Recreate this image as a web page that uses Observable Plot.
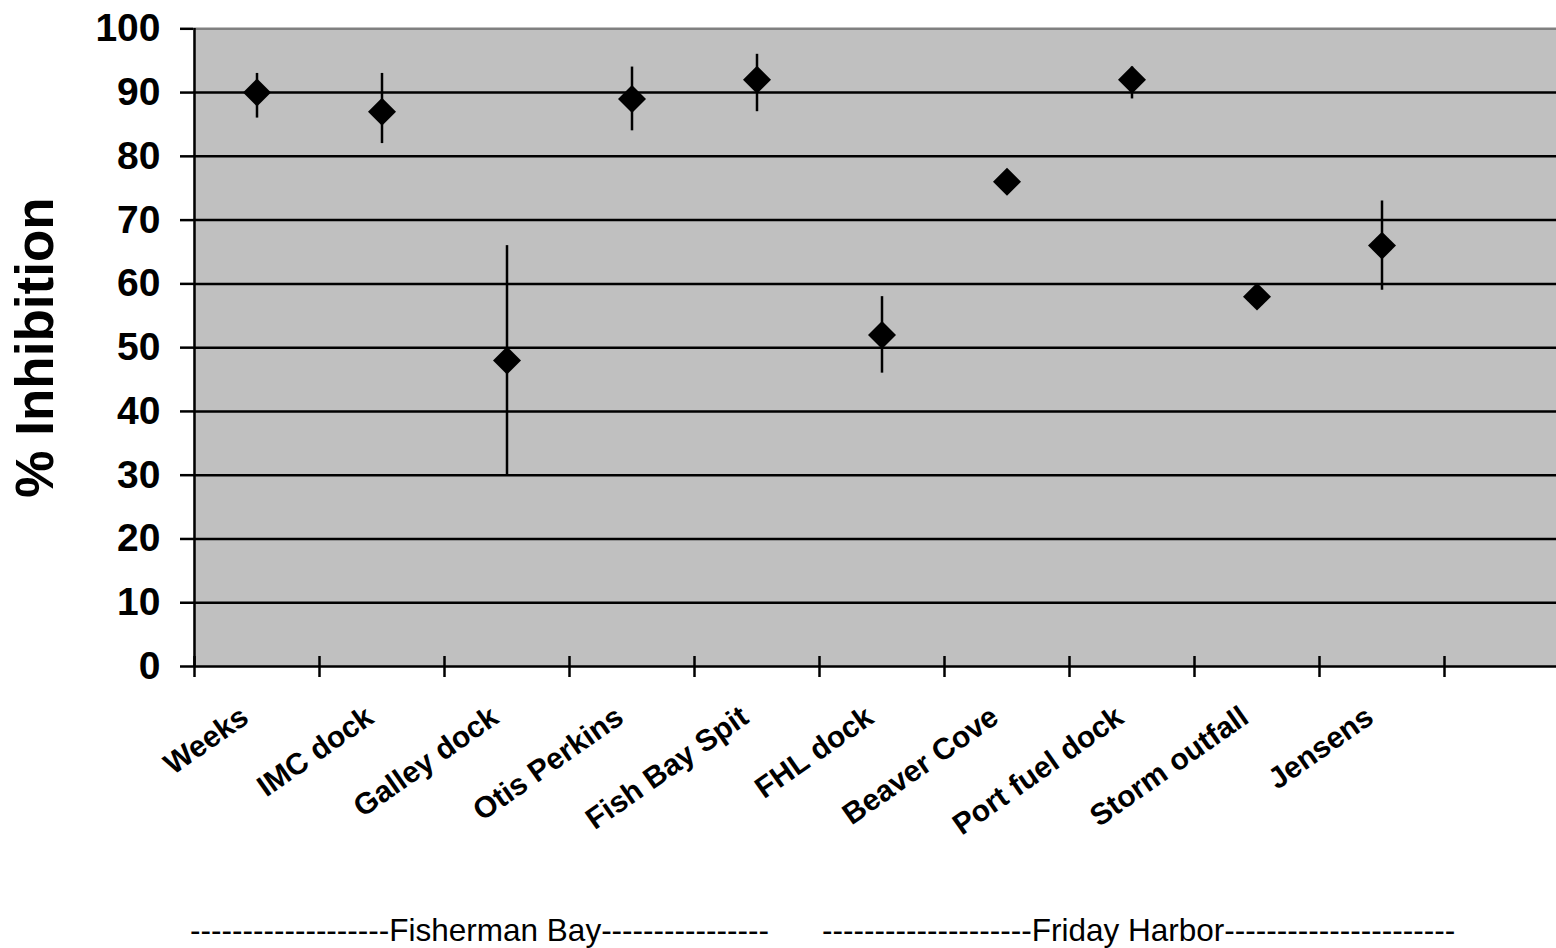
<!DOCTYPE html>
<html>
<head>
<meta charset="utf-8">
<script src="https://cdn.jsdelivr.net/npm/d3@7"></script>
<script src="https://cdn.jsdelivr.net/npm/@observablehq/plot@0.6"></script>
<style>
  html, body { margin: 0; padding: 0; background: #fff; overflow: hidden; }
  #wrap { position: relative; width: 1556px; height: 948px; font-family: "Liberation Sans", Arial, sans-serif; }
  #chart svg { display: block; overflow: hidden; }
  #groups { position: absolute; left: 0; top: 915px; width: 1556px; height: 34px; font-size: 31.5px; line-height: 31.5px; color: #000; white-space: pre; }
  #groups span { position: absolute; top: 0; }
</style>
</head>
<body>
<div id="wrap">
  <div id="chart"></div>
  <div id="groups"></div>
</div>
<script>
// Sampling sites along the x axis
const sites = ["Weeks", "IMC dock", "Galley dock", "Otis Perkins", "Fish Bay Spit",
               "FHL dock", "Beaver Cove", "Port fuel dock", "Storm outfall", "Jensens"];
// Mean % inhibition per site
const inhibition = [90, 87, 48, 89, 92, 52, 76, 92, 58, 66];
// Error bar extents (low / high)
const errLow  = [86, 82, 30, 84, 87, 46, 76, 89, 57, 59];
const errHigh = [93, 93, 66, 94, 96, 58, 76, 94, 60, 73];
// Y axis ticks
const yTicks = [0, 10, 20, 30, 40, 50, 60, 70, 80, 90, 100];
// Group labels under the category axis
const groupLabels = [
  "-------------------Fisherman Bay----------------",
  "--------------------Friday Harbor----------------------"
];
const groupLeft = [190, 822];

// One slot per site, plus one empty slot at the right end of the axis
const slotCount = sites.length + 1;
const rows = sites.map((site, i) => ({
  site, slot: i + 0.5, value: inhibition[i], lo: errLow[i], hi: errHigh[i]
}));
const slotEdges = d3.range(slotCount + 1);

const font = '"Liberation Sans", Arial, sans-serif';

const chart = Plot.plot({
  width: 1556,
  height: 880,
  marginLeft: 193,
  marginRight: 0,
  marginTop: 28,
  marginBottom: 214,
  style: { fontFamily: font, color: "#000", background: "#fff" },
  x: { type: "linear", domain: [0, slotCount], range: [194, 194 + 125 * slotCount], axis: null },
  y: { domain: [0, 100], range: [666, 28.3], axis: null },
  marks: [
    Plot.frame({ fill: "#c0c0c0", stroke: null }),
    // horizontal gridlines (0 doubles as the category axis line)
    Plot.ruleY(yTicks.filter(t => t < 100), { stroke: "#000", strokeWidth: 2.5 }),
    Plot.ruleY([100], { stroke: "#808080", strokeWidth: 2.5 }),
    // value axis line
    Plot.ruleX([0], { stroke: "#000", strokeWidth: 2.5 }),
    // category tick marks between slots, crossing the axis line
    Plot.ruleX(slotEdges, { x: d => d, y1: 0, y2: 0, insetTop: 11, insetBottom: 10, stroke: "#000", strokeWidth: 2.5 }),
    Plot.axisY(yTicks, {
      anchor: "left", tickSize: 13, tickPadding: 20, strokeWidth: 2.5,
      fontSize: 39, fontWeight: "bold", label: null
    }),
    // error bars
    Plot.ruleX(rows, { x: "slot", y1: "lo", y2: "hi", stroke: "#000", strokeWidth: 2.5 }),
    // mean markers
    Plot.dot(rows, { x: "slot", y: "value", symbol: "diamond2", r: 12.6, fill: "#000", stroke: "none" }),
    // rotated site names
    Plot.text(rows, {
      x: "slot", text: "site", frameAnchor: "bottom",
      rotate: -35, textAnchor: "end", lineAnchor: "middle",
      dx: -12, dy: 47, fontSize: 30, fontWeight: "bold", fill: "#000"
    }),
    // value axis title
    Plot.text(["% Inhibition"], {
      text: d => d, frameAnchor: "left", rotate: -90, dx: -157,
      textAnchor: "middle", lineAnchor: "middle",
      fontSize: 53, fontWeight: "bold", fill: "#000"
    })
  ]
});
document.getElementById("chart").appendChild(chart);

const groups = document.getElementById("groups");
groupLabels.forEach((label, i) => {
  const s = document.createElement("span");
  s.textContent = label;
  s.style.left = groupLeft[i] + "px";
  groups.appendChild(s);
});
</script>
</body>
</html>
